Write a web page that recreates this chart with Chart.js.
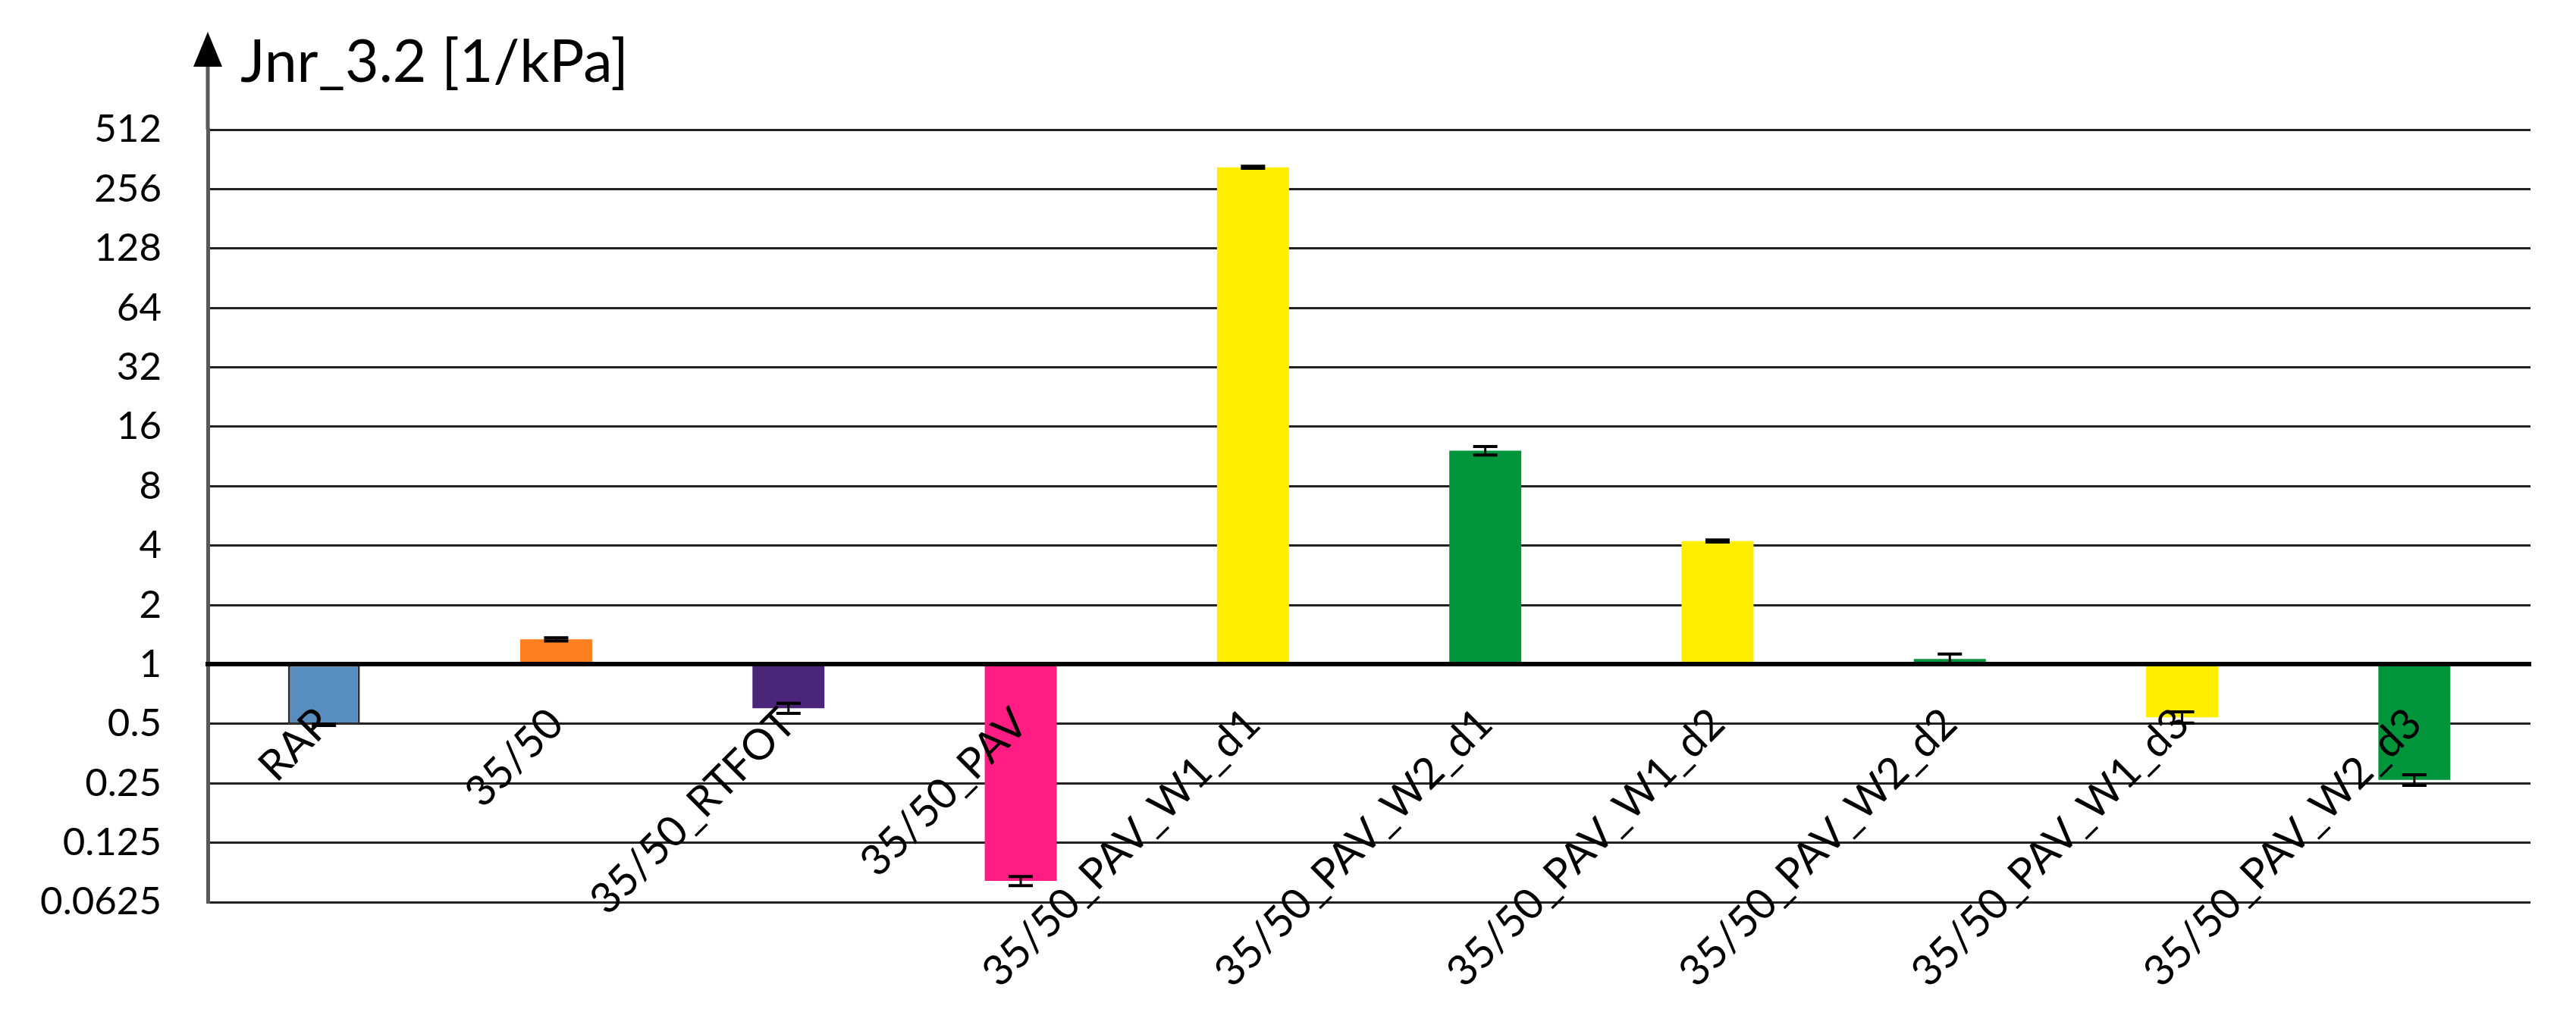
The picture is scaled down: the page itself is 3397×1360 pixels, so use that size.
<!DOCTYPE html>
<html>
<head>
<meta charset="utf-8">
<title>Jnr_3.2</title>
<script src="https://cdn.jsdelivr.net/npm/chart.js@4.4.1/dist/chart.umd.min.js"></script>
<style>
  html, body { margin: 0; padding: 0; background: #ffffff; }
  #wrap { width: 3397px; height: 1360px; position: relative; }
</style>
</head>
<body>
<div id="wrap"><canvas id="jnr-chart"></canvas></div>
<script>
// Jnr_3.2 per binder. Bars hang from 1 on a log2 axis, error bars in black.
var categories = [
  'RAP', '35/50', '35/50_RTFOT', '35/50_PAV',
  '35/50_PAV_W1_d1', '35/50_PAV_W2_d1', '35/50_PAV_W1_d2',
  '35/50_PAV_W2_d2', '35/50_PAV_W1_d3', '35/50_PAV_W2_d3'
];
var jnrValues = [0.495, 1.34, 0.60, 0.080, 330, 12.1, 4.22, 1.065, 0.54, 0.26];
var jnrErrors = [0.004, 0.025, 0.035, 0.0042, 4, 0.6, 0.05, 0.065, 0.035, 0.016];
var barColors = [
  '#588DC0', '#FF7F21', '#4B2678', '#FF1D84',
  '#FFEE00', '#00953A', '#FFEE00', '#00953A', '#FFEE00', '#00953A'
];
var yTickValues = [0.0625, 0.125, 0.25, 0.5, 1, 2, 4, 8, 16, 32, 64, 128, 256, 512];
var axisTitle = 'Jnr_3.2 [1/kPa]';
var BASE = 1;

var FONT = 'Lato, "Open Sans", sans-serif';

// black error bars with caps, drawn from the value scale
var errorBarsPlugin = {
  id: 'errorBars',
  afterDatasetsDraw: function(chart) {
    var meta = chart.getDatasetMeta(0);
    var yScale = chart.scales.y;
    var ctx = chart.ctx;
    ctx.save();
    ctx.strokeStyle = '#000';
    meta.data.forEach(function(bar, i) {
      var top = yScale.getPixelForValue(jnrValues[i] + jnrErrors[i]);
      var bottom = yScale.getPixelForValue(jnrValues[i] - jnrErrors[i]);
      var half = 16;
      ctx.lineWidth = 3;
      ctx.beginPath();
      ctx.moveTo(bar.x, top);
      ctx.lineTo(bar.x, bottom);
      ctx.stroke();
      ctx.lineWidth = 4;
      ctx.beginPath();
      ctx.moveTo(bar.x - half, top);
      ctx.lineTo(bar.x + half, top);
      ctx.moveTo(bar.x - half, bottom);
      ctx.lineTo(bar.x + half, bottom);
      ctx.stroke();
    });
    ctx.restore();
  }
};

// y axis runs up past the plot into an arrow, with the title beside it
var axisArrowPlugin = {
  id: 'axisArrow',
  afterDraw: function(chart) {
    var ctx = chart.ctx;
    var x = chart.chartArea.left;
    var top = chart.chartArea.top;
    ctx.save();
    ctx.strokeStyle = '#595959';
    ctx.lineWidth = 5;
    ctx.beginPath();
    ctx.moveTo(x, 86);
    ctx.lineTo(x, top);
    ctx.stroke();
    ctx.fillStyle = '#000';
    ctx.beginPath();
    ctx.moveTo(x, 42);
    ctx.lineTo(x + 19, 88);
    ctx.lineTo(x - 19, 88);
    ctx.closePath();
    ctx.fill();
    ctx.font = '77px ' + FONT;
    ctx.textAlign = 'left';
    ctx.textBaseline = 'alphabetic';
    ctx.fillText(axisTitle, x + 43, 108);
    ctx.restore();
  }
};

var ctx = document.getElementById('jnr-chart').getContext('2d');
new Chart(ctx, {
  type: 'bar',
  data: {
    labels: categories,
    datasets: [{
      label: axisTitle,
      data: jnrValues.map(function(v) { return [BASE, v]; }),
      backgroundColor: barColors,
      borderColor: barColors.map(function(c, i) { return i === 0 ? '#2e2e2e' : c; }),
      borderWidth: barColors.map(function(c, i) { return i === 0 ? 3 : 0; }),
      borderSkipped: false,
      categoryPercentage: 1,
      barPercentage: 0.31
    }]
  },
  options: {
    responsive: true,
    maintainAspectRatio: false,
    animation: false,
    layout: { padding: { left: 0, right: 60, top: 171, bottom: 170 } },
    plugins: {
      legend: { display: false },
      tooltip: { enabled: false }
    },
    scales: {
      x: {
        type: 'category',
        position: { y: BASE },
        offset: true,
        grid: { display: false, drawTicks: false },
        border: { display: true, color: '#000', width: 6, z: 1 },
        ticks: {
          z: 1,
          autoSkip: false,
          minRotation: 45,
          maxRotation: 45,
          padding: 45,
          labelOffset: 0,
          color: '#000',
          font: { family: FONT, size: 56 }
        }
      },
      y: {
        type: 'logarithmic',
        position: 'left',
        min: 0.0625,
        max: 512,
        afterBuildTicks: function(scale) {
          scale.ticks = yTickValues.map(function(v) { return { value: v }; });
        },
        afterFit: function(scale) { scale.width = 274; },
        grid: { color: '#222222', lineWidth: 3, drawTicks: false },
        border: { display: true, color: '#595959', width: 5 },
        ticks: {
          padding: 61,
          color: '#000',
          font: { family: FONT, size: 51 },
          callback: function(v) { return String(v); }
        }
      }
    }
  },
  plugins: [errorBarsPlugin, axisArrowPlugin]
});
</script>
</body>
</html>
